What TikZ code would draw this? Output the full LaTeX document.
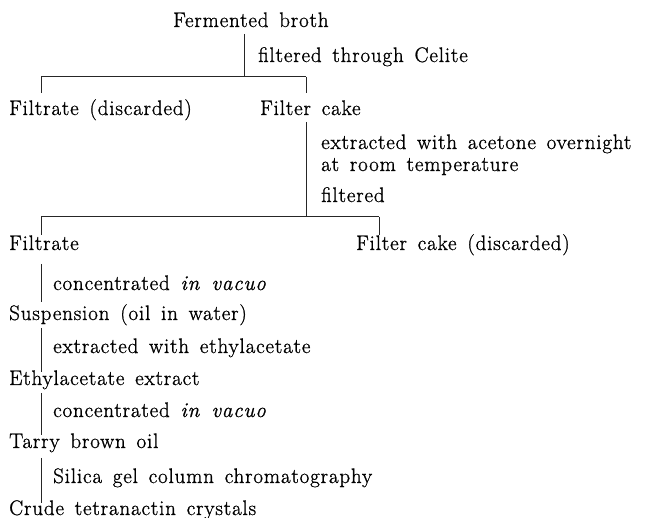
\documentclass[tikz,border=0pt]{standalone}
\usepackage{fontspec}
\setmainfont{Latin Modern Roman}[LetterSpace=4, WordSpace=1.5, FakeBold=1]
\usetikzlibrary{calc}
\begin{document}
\begin{tikzpicture}[x=1pt,y=-1pt,
  txt/.style={anchor=base west, inner sep=0pt, font=\fontsize{21}{25}\selectfont},
  conn/.style={line width=1pt, black!85}]
\useasboundingbox (0,0) rectangle (665,518);
% nodes
\node[txt] (fb) at (173,27) {Fermented broth};
\node[txt] (s1) at (258,62) {filtered through Celite};
\node[txt] (fd) at (9,115) {Filtrate (discarded)};
\node[txt] (fc) at (260,115) {Filter cake};
\node[txt] (s2a) at (321,149) {extracted with acetone overnight};
\node[txt] (s2b) at (321,171) {at room temperature};
\node[txt] (s2c) at (321,202) {filtered};
\node[txt] (ft) at (9,250) {Filtrate};
\node[txt] (fcd) at (356,250) {Filter cake (discarded)};
\node[txt] (s3) at (53,290) {concentrated \textit{in vacuo}};
\node[txt] (sus) at (9,320) {Suspension (oil in water)};
\node[txt] (s4) at (53,353) {extracted with ethylacetate};
\node[txt] (ea) at (9,385) {Ethylacetate extract};
\node[txt] (s5) at (53,417) {concentrated \textit{in vacuo}};
\node[txt] (tb) at (9,448) {Tarry brown oil};
\node[txt] (s6) at (53,483) {Silica gel column chromatography};
\node[txt] (ct) at (9,515) {Crude tetranactin crystals};
% junctions
\coordinate (j1) at (244,77);
\coordinate (j1l) at (41,77);
\coordinate (j1r) at (306,77);
\coordinate (j2) at (306,217);
\coordinate (j2l) at (41,217);
\coordinate (j2r) at (379,217);
\coordinate (v) at (41,0);
% connectors
\draw[conn] ($(fb.base -| j1)+(0,7)$) -- (j1);
\draw[conn] (j1l) -- (j1r);
\draw[conn] (j1l) -- ($(fd.base -| j1l)+(0,-22)$);
\draw[conn] (j1r) -- ($(fc.base -| j1r)+(0,-22)$);
\draw[conn] ($(fc.base -| j2)+(0,7)$) -- (j2);
\draw[conn] (j2l) -- (j2r);
\draw[conn] (j2l) -- ($(ft.base -| j2l)+(0,-15)$);
\draw[conn] (j2r) -- ($(fcd.base -| j2r)+(0,-15)$);
\draw[conn] ($(ft.base -| v)+(0,14)$) -- ($(sus.base -| v)+(0,-18)$);
\draw[conn] ($(sus.base -| v)+(0,8)$) -- ($(ea.base -| v)+(0,-13)$);
\draw[conn] ($(ea.base -| v)+(0,8)$) -- ($(tb.base -| v)+(0,-13)$);
\draw[conn] ($(tb.base -| v)+(0,10)$) -- ($(ct.base -| v)+(0,-12)$);
\end{tikzpicture}
\end{document}
